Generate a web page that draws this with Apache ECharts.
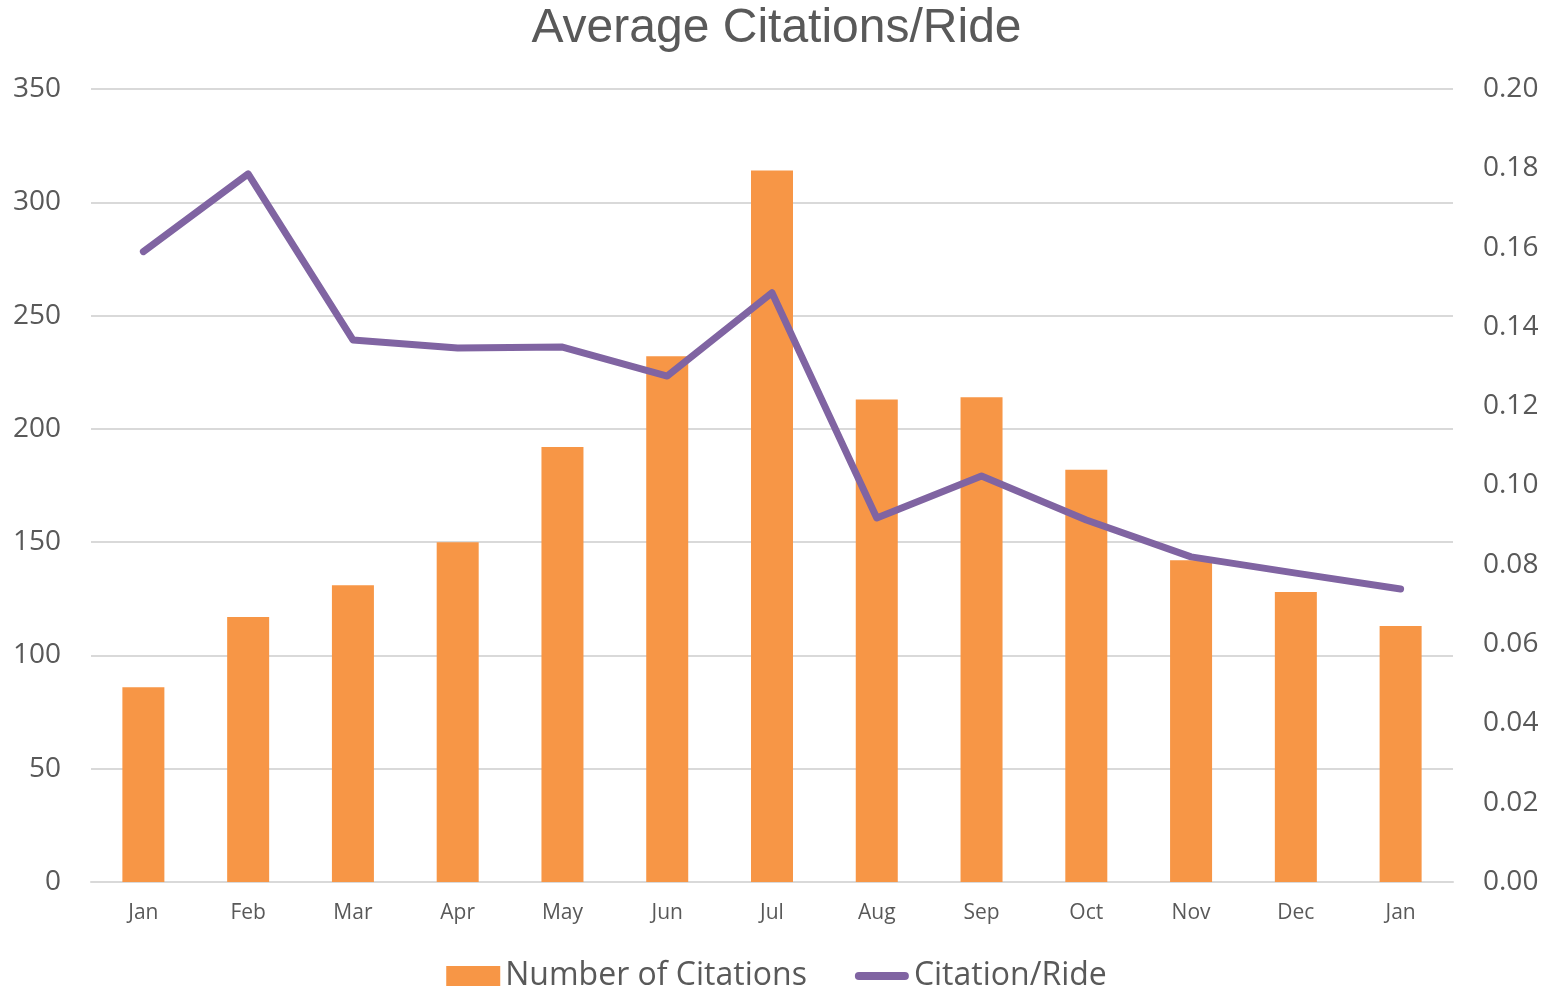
<!DOCTYPE html>
<html>
<head>
<meta charset="utf-8">
<script src="https://cdn.jsdelivr.net/npm/echarts@6/dist/echarts.min.js"></script>
<style>
  html, body { margin: 0; padding: 0; background: #fff; }
  #chart { width: 1553px; height: 993px; }
</style>
</head>
<body>
<div id="chart"></div>
<script>
const months = ['Jan', 'Feb', 'Mar', 'Apr', 'May', 'Jun', 'Jul', 'Aug', 'Sep', 'Oct', 'Nov', 'Dec', 'Jan'];
const citations = [86, 117, 131, 150, 192, 232, 314, 213, 214, 182, 142, 128, 113];
const citationPerRide = [0.159, 0.1786, 0.1367, 0.1347, 0.1349, 0.1276, 0.1486, 0.0918, 0.1024, 0.0913, 0.082, 0.0779, 0.0739];

const textColor = '#595959';
const labelFont = 'Open Sans';

const chart = echarts.init(document.getElementById('chart'));

chart.setOption({
  animation: false,
  title: {
    text: 'Average Citations/Ride',
    left: 'center',
    top: 0,
    textStyle: {
      color: textColor,
      fontFamily: 'Liberation Sans',
      fontWeight: 'normal',
      fontSize: 48,
    },
  },
  legend: {
    bottom: -4,
    left: 'center',
    itemGap: 48,
    itemWidth: 54,
    itemHeight: 20,
    textStyle: {
      color: textColor,
      fontFamily: labelFont,
      fontSize: 32,
    },
    data: [
      { name: 'Number of Citations', icon: 'rect' },
      // thick line swatch like the plotted line
      { name: 'Citation/Ride', icon: 'path://M4,0 H50 A4,4 0 0 1 50,8 H4 A4,4 0 0 1 4,0 Z' },
    ],
  },
  grid: {
    left: 91,
    right: 100,
    top: 89,
    bottom: 111,
  },
  xAxis: {
    type: 'category',
    data: months,
    axisTick: { show: false },
    axisLine: { lineStyle: { color: '#d9d9d9', width: 2 } },
    axisLabel: {
      color: textColor,
      fontFamily: labelFont,
      fontSize: 21,
      margin: 21,
    },
  },
  yAxis: [
    {
      type: 'value',
      min: 0,
      max: 350,
      interval: 50,
      axisLine: { show: false },
      axisTick: { show: false },
      axisLabel: {
        color: textColor,
        fontFamily: labelFont,
        fontSize: 28,
        margin: 30,
      },
      splitLine: { lineStyle: { color: '#d9d9d9', width: 2 } },
    },
    {
      type: 'value',
      min: 0,
      max: 0.2,
      interval: 0.02,
      axisLine: { show: false },
      axisTick: { show: false },
      splitLine: { show: false },
      axisLabel: {
        color: textColor,
        fontFamily: labelFont,
        fontSize: 28,
        margin: 30,
        formatter: (v) => v.toFixed(2),
      },
    },
  ],
  series: [
    {
      name: 'Number of Citations',
      type: 'bar',
      data: citations,
      barWidth: 42,
      itemStyle: { color: '#F79646' },
    },
    {
      name: 'Citation/Ride',
      type: 'line',
      yAxisIndex: 1,
      data: citationPerRide,
      symbol: 'none',
      lineStyle: { color: '#8064A2', width: 7, cap: 'round', join: 'round' },
      itemStyle: { color: '#8064A2' },
    },
  ],
});
</script>
</body>
</html>
